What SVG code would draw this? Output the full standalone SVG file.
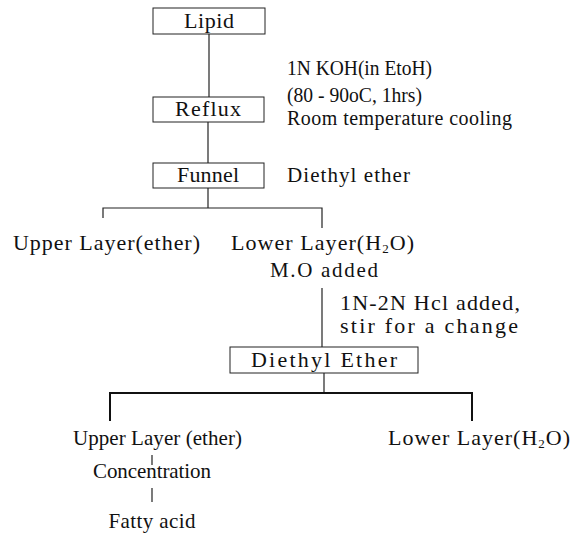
<svg xmlns="http://www.w3.org/2000/svg" width="588" height="540" viewBox="0 0 588 540">
<style>
  text { font-family: "Liberation Serif", "Times New Roman", serif; font-size: 21px; fill: #111; }
  .sm { font-size: 20px; }
  .lg { font-size: 22px; }
  .box { fill: #fff; stroke: #222; stroke-width: 1; }
  .ln { stroke: #222; stroke-width: 1.2; fill: none; }
  .thick { stroke: #111; stroke-width: 2; fill: none; }
  .c { text-anchor: middle; }
  .sub { font-size: 13px; }
</style>
<rect width="588" height="540" fill="#fff"/>
<g id="connectors">
  <line class="ln" x1="209" y1="34" x2="209" y2="97"/>
  <line class="ln" x1="208" y1="122" x2="208" y2="163"/>
  <line class="ln" x1="208" y1="188" x2="208" y2="208"/>
  <polyline class="ln" points="103,218 103,208 322,208 322,228"/>
  <line class="ln" x1="322" y1="288" x2="322" y2="347"/>
  <line class="ln" x1="324" y1="373" x2="324" y2="393"/>
  <polyline class="thick" points="110,421 110,393 472,393 472,421"/>
  <line class="ln" x1="152" y1="455" x2="152" y2="465"/>
  <line class="ln" x1="152" y1="488" x2="152" y2="502"/>
</g>
<g id="lipid">
  <rect class="box" x="153" y="8" width="112" height="26"/>
  <text class="c lg" x="209" y="28" textLength="50" lengthAdjust="spacing">Lipid</text>
</g>
<g id="reflux">
  <rect class="box" x="153" y="97" width="111" height="25"/>
  <text class="c lg" x="208" y="116" textLength="66" lengthAdjust="spacing">Reflux</text>
</g>
<g id="funnel">
  <rect class="box" x="153" y="163" width="111" height="25"/>
  <text class="c lg" x="208" y="182" textLength="62" lengthAdjust="spacing">Funnel</text>
</g>
<g id="reflux-conditions">
  <text class="sm" x="287" y="75" textLength="145" lengthAdjust="spacingAndGlyphs">1N KOH(in EtoH)</text>
  <text class="sm" x="287" y="102" textLength="135" lengthAdjust="spacingAndGlyphs">(80 - 90oC, 1hrs)</text>
  <text class="sm" x="287" y="125" textLength="225" lengthAdjust="spacing">Room temperature cooling</text>
</g>
<g id="funnel-label">
  <text x="287" y="182" textLength="123" lengthAdjust="spacing">Diethyl ether</text>
</g>
<g id="upper-layer-1">
  <text class="lg" x="13" y="250" textLength="187" lengthAdjust="spacing">Upper Layer(ether)</text>
</g>
<g id="lower-layer-1">
  <text class="lg" x="231" y="250" textLength="183" lengthAdjust="spacing">Lower Layer(H<tspan class="sub" dy="3">2</tspan><tspan dy="-3">O)</tspan></text>
  <text x="270" y="277" textLength="108" lengthAdjust="spacing">M.O added</text>
</g>
<g id="hcl-label">
  <text class="lg" x="340" y="310" textLength="180" lengthAdjust="spacing">1N-2N Hcl added,</text>
  <text class="lg" x="340" y="333" textLength="178" lengthAdjust="spacing">stir for a change</text>
</g>
<g id="diethyl-ether">
  <rect class="box" x="230" y="347" width="188" height="26"/>
  <text class="c lg" x="324" y="367" textLength="146" lengthAdjust="spacing">Diethyl Ether</text>
</g>
<g id="upper-layer-2">
  <text x="73" y="445" textLength="169" lengthAdjust="spacing">Upper Layer (ether)</text>
</g>
<g id="lower-layer-2">
  <text class="lg" x="388" y="445" textLength="182" lengthAdjust="spacing">Lower Layer(H<tspan class="sub" dy="3">2</tspan><tspan dy="-3">O)</tspan></text>
</g>
<g id="concentration">
  <text class="c" x="152" y="478" textLength="118" lengthAdjust="spacing">Concentration</text>
</g>
<g id="fatty-acid">
  <text class="c" x="152" y="528" textLength="87" lengthAdjust="spacing">Fatty acid</text>
</g>
</svg>
